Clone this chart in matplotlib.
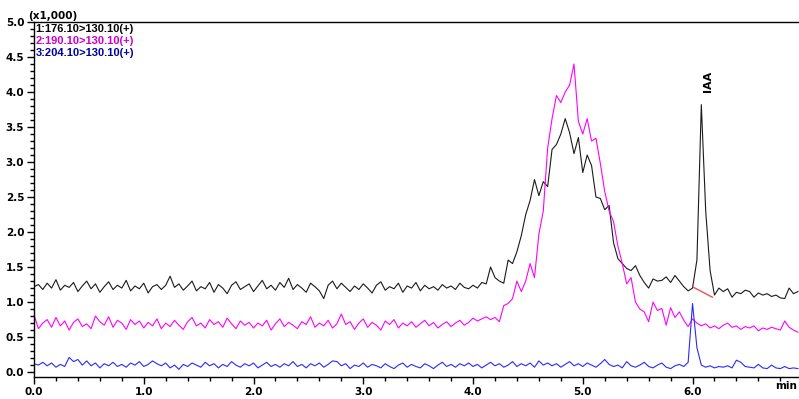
import numpy as np
import matplotlib.pyplot as plt
from matplotlib.ticker import MultipleLocator


# retention time grid (min), one sample every 0.04 min
rt = np.round(np.arange(175) * 0.04, 2)

# 1: 176.10>130.10 (+), intensity x1000
mrm_176 = [
	1.22, 1.25, 1.18, 1.27, 1.20, 1.32, 1.17, 1.24, 1.21, 1.28,
	1.15, 1.23, 1.30, 1.19, 1.26, 1.14, 1.22, 1.29, 1.18, 1.24,
	1.20, 1.31, 1.16, 1.23, 1.19, 1.27, 1.13, 1.22, 1.25, 1.18,
	1.24, 1.37, 1.21, 1.26, 1.17, 1.23, 1.30, 1.16, 1.22, 1.19,
	1.28, 1.14, 1.25, 1.20, 1.12, 1.24, 1.29, 1.18, 1.22, 1.26,
	1.15, 1.23, 1.31, 1.19, 1.24, 1.17, 1.28, 1.21, 1.34, 1.18,
	1.25, 1.20, 1.14, 1.27, 1.22, 1.16, 1.05, 1.24, 1.30, 1.19,
	1.27, 1.21, 1.15, 1.23, 1.18, 1.26, 1.20, 1.13, 1.24, 1.29,
	1.17, 1.22, 1.19, 1.27, 1.14, 1.23, 1.20, 1.28, 1.16, 1.24,
	1.19, 1.22, 1.17, 1.25, 1.20, 1.23, 1.18, 1.27, 1.21, 1.19,
	1.24, 1.20, 1.28, 1.26, 1.50, 1.35, 1.30, 1.27, 1.60, 1.55,
	1.72, 1.95, 2.25, 2.45, 2.75, 2.52, 2.72, 2.65, 3.18, 3.25,
	3.40, 3.62, 3.42, 3.12, 3.35, 2.85, 3.10, 2.95, 2.50, 2.48,
	2.32, 2.38, 1.85, 1.62, 1.55, 1.48, 1.45, 1.52, 1.38, 1.28,
	1.20, 1.33, 1.30, 1.31, 1.36, 1.28, 1.38, 1.30, 1.22, 1.16,
	1.20, 1.60, 3.82, 2.30, 1.45, 1.10, 1.20, 1.15, 1.19, 1.07,
	1.14, 1.12, 1.17, 1.15, 1.07, 1.13, 1.10, 1.12, 1.08, 1.10,
	1.06, 1.05, 1.20, 1.12, 1.15,
]

# 2: 190.10>130.10 (+)
mrm_190 = [
	0.82, 0.62, 0.70, 0.75, 0.64, 0.78, 0.66, 0.73, 0.60, 0.71,
	0.76, 0.65, 0.69, 0.62, 0.80, 0.72, 0.67, 0.79, 0.64, 0.74,
	0.70, 0.61, 0.75, 0.68, 0.73, 0.63, 0.71, 0.66, 0.76, 0.62,
	0.70, 0.65, 0.74, 0.67, 0.61, 0.72, 0.78, 0.66, 0.70, 0.63,
	0.75, 0.68, 0.72, 0.64, 0.77, 0.69, 0.62, 0.73, 0.67, 0.71,
	0.63, 0.70, 0.66, 0.74, 0.60, 0.69, 0.76, 0.65, 0.71, 0.67,
	0.62, 0.72, 0.68, 0.79, 0.64, 0.70, 0.66, 0.74, 0.63, 0.69,
	0.83, 0.68, 0.72, 0.61, 0.70, 0.76, 0.64, 0.71, 0.67, 0.60,
	0.73, 0.68, 0.75, 0.63, 0.70, 0.66, 0.72, 0.64, 0.69, 0.74,
	0.66, 0.71, 0.63, 0.68, 0.72, 0.65, 0.70, 0.74, 0.67, 0.71,
	0.77, 0.73, 0.76, 0.79, 0.75, 0.78, 0.72, 0.95, 0.98, 1.05,
	1.30, 1.15, 1.30, 1.55, 1.35, 1.97, 2.30, 3.20, 3.62, 3.95,
	3.85, 4.00, 4.10, 4.40, 3.58, 3.40, 3.62, 3.30, 3.34, 2.98,
	2.58, 2.30, 2.15, 1.80, 1.55, 1.26, 1.35, 1.00, 0.90, 0.86,
	0.72, 1.00, 0.88, 0.91, 0.67, 0.92, 0.78, 0.86, 0.74, 0.65,
	0.76, 0.70, 0.66, 0.69, 0.63, 0.66, 0.62, 0.67, 0.70, 0.64,
	0.66, 0.61, 0.65, 0.63, 0.66, 0.59, 0.63, 0.61, 0.64, 0.62,
	0.60, 0.73, 0.64, 0.60, 0.57,
]

# 3: 204.10>130.10 (+)
mrm_204 = [
	0.12, 0.10, 0.14, 0.09, 0.13, 0.07, 0.11, 0.08, 0.21, 0.15,
	0.18, 0.10, 0.16, 0.09, 0.13, 0.06, 0.12, 0.09, 0.14, 0.08,
	0.11, 0.07, 0.13, 0.10, 0.15, 0.08, 0.11, 0.16, 0.12, 0.09,
	0.13, 0.06, 0.10, 0.04, 0.11, 0.08, 0.13, 0.10, 0.07, 0.14,
	0.09, 0.12, 0.06, 0.11, 0.08, 0.15, 0.10, 0.07, 0.12, 0.09,
	0.13, 0.06, 0.10, 0.14, 0.08, 0.11, 0.07, 0.12, 0.09, 0.15,
	0.08, 0.11, 0.06, 0.12, 0.09, 0.13, 0.07, 0.11, 0.16, 0.15,
	0.09, 0.12, 0.05, 0.10, 0.08, 0.13, 0.07, 0.11, 0.09, 0.06,
	0.12, 0.08, 0.05, 0.10, 0.13, 0.07, 0.11, 0.08, 0.06, 0.12,
	0.09, 0.05, 0.10, 0.14, 0.08, 0.11, 0.07, 0.12, 0.09, 0.13,
	0.08, 0.11, 0.06, 0.10, 0.14, 0.09, 0.12, 0.07, 0.10, 0.15,
	0.08, 0.12, 0.09, 0.13, 0.07, 0.16, 0.10, 0.13, 0.09, 0.12,
	0.07, 0.11, 0.15, 0.09, 0.12, 0.08, 0.13, 0.10, 0.07, 0.12,
	0.18, 0.11, 0.08, 0.10, 0.06, 0.15, 0.09, 0.07, 0.10, 0.14,
	0.08, 0.06, 0.10, 0.13, 0.07, 0.05, 0.09, 0.11, 0.08, 0.14,
	0.98, 0.35, 0.10, 0.07, 0.09, 0.06, 0.08, 0.07, 0.09, 0.06,
	0.17, 0.14, 0.08, 0.07, 0.06, 0.11, 0.06, 0.05, 0.10, 0.06,
	0.05, 0.08, 0.05, 0.06, 0.05,
]

channels = ["1:176.10>130.10(+)", "2:190.10>130.10(+)", "3:204.10>130.10(+)"]
line_colors = ["#1a1a1a", "#ff00ff", "#2a2aff"]
text_colors = ["#000000", "#cc00cc", "#0000a0"]

# IAA peak and its integration baseline
iaa_rt = 6.14
iaa_label_y = 4.15
iaa_base_rt = [6.01, 6.18]
iaa_base_int = [1.21, 1.07]


fig = plt.figure(figsize=(7.99, 3.99), dpi=100)
ax = fig.add_axes([34/799, 22/399, 765/799, 355/399])

for ys, col in zip([mrm_176, mrm_190, mrm_204], line_colors):
	ax.plot(rt, ys, color=col, lw=0.8)

ax.plot(iaa_base_rt, iaa_base_int, color="#f05050", lw=1.0)
ax.text(iaa_rt, iaa_label_y, "IAA", rotation=90, ha="center", va="center",
	fontsize=8, fontweight="bold")

for i, (name, col) in enumerate(zip(channels, text_colors)):
	ax.text(0.002, 0.98 - i*0.034, name, transform=ax.transAxes, color=col,
		fontsize=8, fontweight="bold", family="Liberation Sans", va="center", ha="left")

ax.set_xlim(0, 6.97)
ax.set_ylim(-0.07, 5.0)

ax.xaxis.set_major_locator(MultipleLocator(1.0))
ax.xaxis.set_minor_locator(MultipleLocator(0.2))
ax.yaxis.set_major_locator(MultipleLocator(0.5))
ax.yaxis.set_minor_locator(MultipleLocator(0.1))
ax.xaxis.set_major_formatter(lambda v, p: "%.1f" % v)
ax.yaxis.set_major_formatter(lambda v, p: "%.1f" % v)

ax.spines["right"].set_visible(False)
for s in ["left", "bottom", "top"]:
	ax.spines[s].set_linewidth(1.0)

ax.tick_params(which="major", direction="out", length=5, width=1, pad=2)
ax.tick_params(which="minor", direction="out", length=3, width=1)
for lab in ax.get_xticklabels() + ax.get_yticklabels():
	lab.set_fontsize(7.5)
	lab.set_fontweight("bold")

fig.text(28/799, 1 - 16/399, "(x1,000)", fontsize=7.5, fontweight="bold", va="center", ha="left")
fig.text(775/799, 1 - 386/399, "min", fontsize=7.5, fontweight="bold", va="center", ha="left")

fig.savefig("out.png", dpi=100)
